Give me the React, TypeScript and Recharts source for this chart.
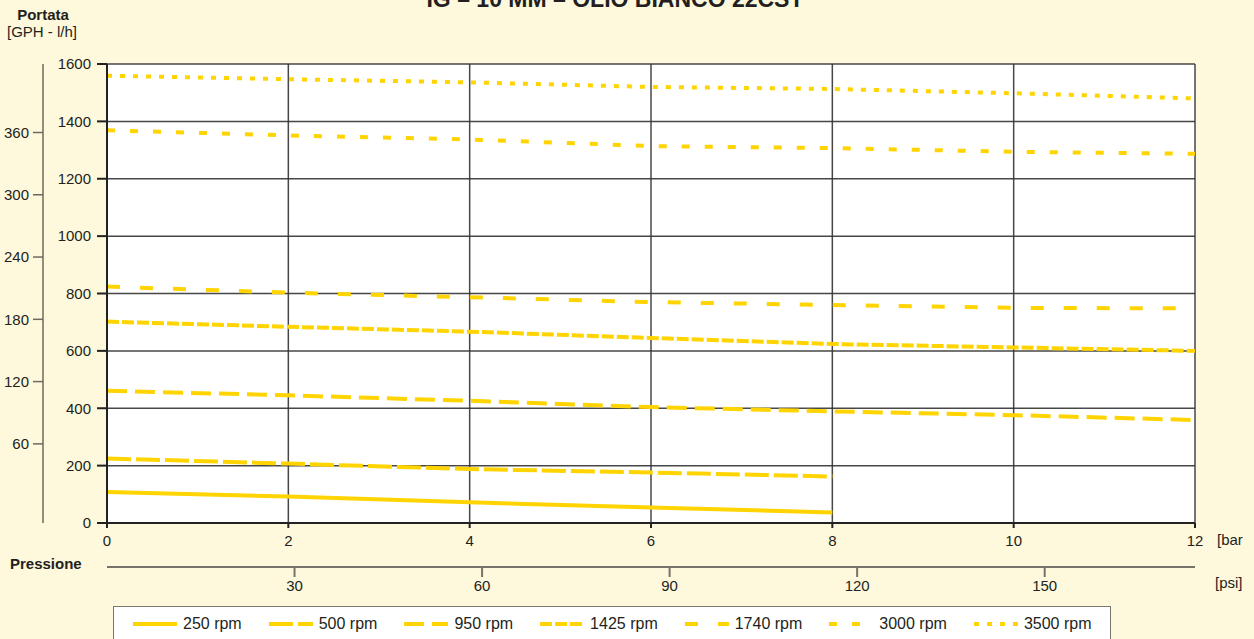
import { CartesianGrid, Line, LineChart, XAxis, YAxis } from 'recharts';

// pressure in bar, flow in l/h
const pressureBar = [0, 2, 4, 6, 8, 10, 12];
const rpm250 = [108, 92, 72, 54, 37];
const rpm500 = [225, 207, 188, 176, 162];
const rpm950 = [461, 445, 426, 404, 389, 376, 359];
const rpm1425 = [702, 684, 667, 645, 624, 612, 600];
const rpm1740 = [824, 803, 787, 770, 760, 750, 748];
const rpm3000 = [1369, 1351, 1337, 1314, 1307, 1294, 1287];
const rpm3500 = [1559, 1547, 1536, 1520, 1513, 1498, 1480];

const lhTicks = [0, 200, 400, 600, 800, 1000, 1200, 1400, 1600];
const gphTicks = [60, 120, 180, 240, 300, 360];
const barTicks = [0, 2, 4, 6, 8, 10, 12];
const psiTicks = [30, 60, 90, 120, 150];

const PSI_PER_BAR = 14.5038;
const GOLD = '#FFD400';
const INK = '#231F20';
const FONT = "'Liberation Sans', Arial, sans-serif";

const series = [
  { key: 'r250', name: '250 rpm', values: rpm250, dash: undefined },
  { key: 'r500', name: '500 rpm', values: rpm500, dash: '24 5' },
  { key: 'r950', name: '950 rpm', values: rpm950, dash: '20 8' },
  { key: 'r1425', name: '1425 rpm', values: rpm1425, dash: '12 3' },
  { key: 'r1740', name: '1740 rpm', values: rpm1740, dash: '13 20' },
  { key: 'r3000', name: '3000 rpm', values: rpm3000, dash: '8 15' },
  { key: 'r3500', name: '3500 rpm', values: rpm3500, dash: '5 8' },
];

const data = pressureBar.map((bar, i) => {
  const row: Record<string, number | undefined> = { bar, psi: bar * PSI_PER_BAR };
  series.forEach((s) => {
    row[s.key] = s.values[i];
  });
  return row;
});

const tickStyle = { fill: INK, fontSize: 15, fontFamily: FONT };

export default function App() {
  return (
    <div
      style={{
        position: 'absolute',
        left: 0,
        top: 0,
        width: 1254,
        height: 639,
        overflow: 'hidden',
        background: '#FEF8DC',
        fontFamily: FONT,
        color: INK,
      }}
    >
      <LineChart
        width={1254}
        height={639}
        data={data}
        margin={{ top: 64, right: 59, bottom: 32, left: 0 }}
      >
        <CartesianGrid
          xAxisId="bar"
          yAxisId="flow"
          fill="#ffffff"
          stroke="#333"
          strokeWidth={1.5}
          strokeOpacity={0.9}
        />
        <XAxis
          xAxisId="bar"
          dataKey="bar"
          type="number"
          domain={[0, 12]}
          ticks={barTicks}
          height={44}
          tickSize={5}
          tickMargin={7}
          tick={tickStyle}
          stroke="#222"
          strokeWidth={2}
        />
        <XAxis
          xAxisId="psi"
          dataKey="psi"
          type="number"
          domain={[0, 12 * PSI_PER_BAR]}
          ticks={psiTicks}
          allowDataOverflow
          height={40}
          tickSize={10}
          tickMargin={3}
          tick={tickStyle}
          stroke="#76736a"
          strokeWidth={2}
        />
        {/* ids sort: "flow" sits next to the plot, "gph" outside it */}
        <YAxis
          yAxisId="flow"
          type="number"
          domain={[0, 1600]}
          ticks={lhTicks}
          width={64}
          tickSize={10}
          tickMargin={6}
          tick={tickStyle}
          stroke="#222"
          strokeWidth={2}
        />
        <YAxis
          yAxisId="gph"
          type="number"
          domain={[-16.25, 426]}
          ticks={gphTicks}
          allowDataOverflow
          width={43}
          tickSize={10}
          tickMargin={4}
          tick={tickStyle}
          stroke="#6d6a60"
          strokeWidth={1.5}
        />
        {series.map((s) => (
          <Line
            key={s.key}
            xAxisId="bar"
            yAxisId="flow"
            type="linear"
            dataKey={s.key}
            name={s.name}
            stroke={GOLD}
            strokeWidth={4}
            strokeDasharray={s.dash}
            dot={false}
            activeDot={false}
            isAnimationActive={false}
          />
        ))}
      </LineChart>

      <svg
        width={1254}
        height={639}
        style={{ position: 'absolute', left: 0, top: 0, pointerEvents: 'none' }}
        fontFamily={FONT}
      >
        <text x={615} y={7} textAnchor="middle" fontSize={23} fontWeight="bold" fill={INK}>
          IG – 10 MM – OLIO BIANCO 22CST
        </text>
        <text x={43} y={20} textAnchor="middle" fontSize={15} fontWeight="bold" fill={INK}>
          Portata
        </text>
        <text x={42} y={37} textAnchor="middle" fontSize={15} fill={INK}>
          [GPH - l/h]
        </text>
        <text x={10} y={569} fontSize={15} fontWeight="bold" fill={INK}>
          Pressione
        </text>
        <text x={1217} y={545} fontSize={15} fill={INK}>
          [bar
        </text>
        <text x={1215} y={588} fontSize={15} fill={INK}>
          [psi]
        </text>
      </svg>

      <div
        style={{
          position: 'absolute',
          left: 113,
          top: 606,
          width: 998,
          height: 44,
          background: '#ffffff',
          border: '1px solid #7a776e',
          display: 'flex',
          alignItems: 'center',
          paddingLeft: 19,
          paddingBottom: 8,
          boxSizing: 'border-box',
          gap: 27,
          fontSize: 16,
          whiteSpace: 'nowrap',
        }}
      >
        {series.map((s) => (
          <div
            key={s.key}
            style={{ display: 'flex', alignItems: 'center', gap: 6, flexShrink: 0 }}
          >
            <svg width={44} height={8}>
              <line
                x1={0}
                y1={4}
                x2={44}
                y2={4}
                stroke={GOLD}
                strokeWidth={4}
                strokeDasharray={s.dash}
              />
            </svg>
            <span>{s.name}</span>
          </div>
        ))}
      </div>
    </div>
  );
}
